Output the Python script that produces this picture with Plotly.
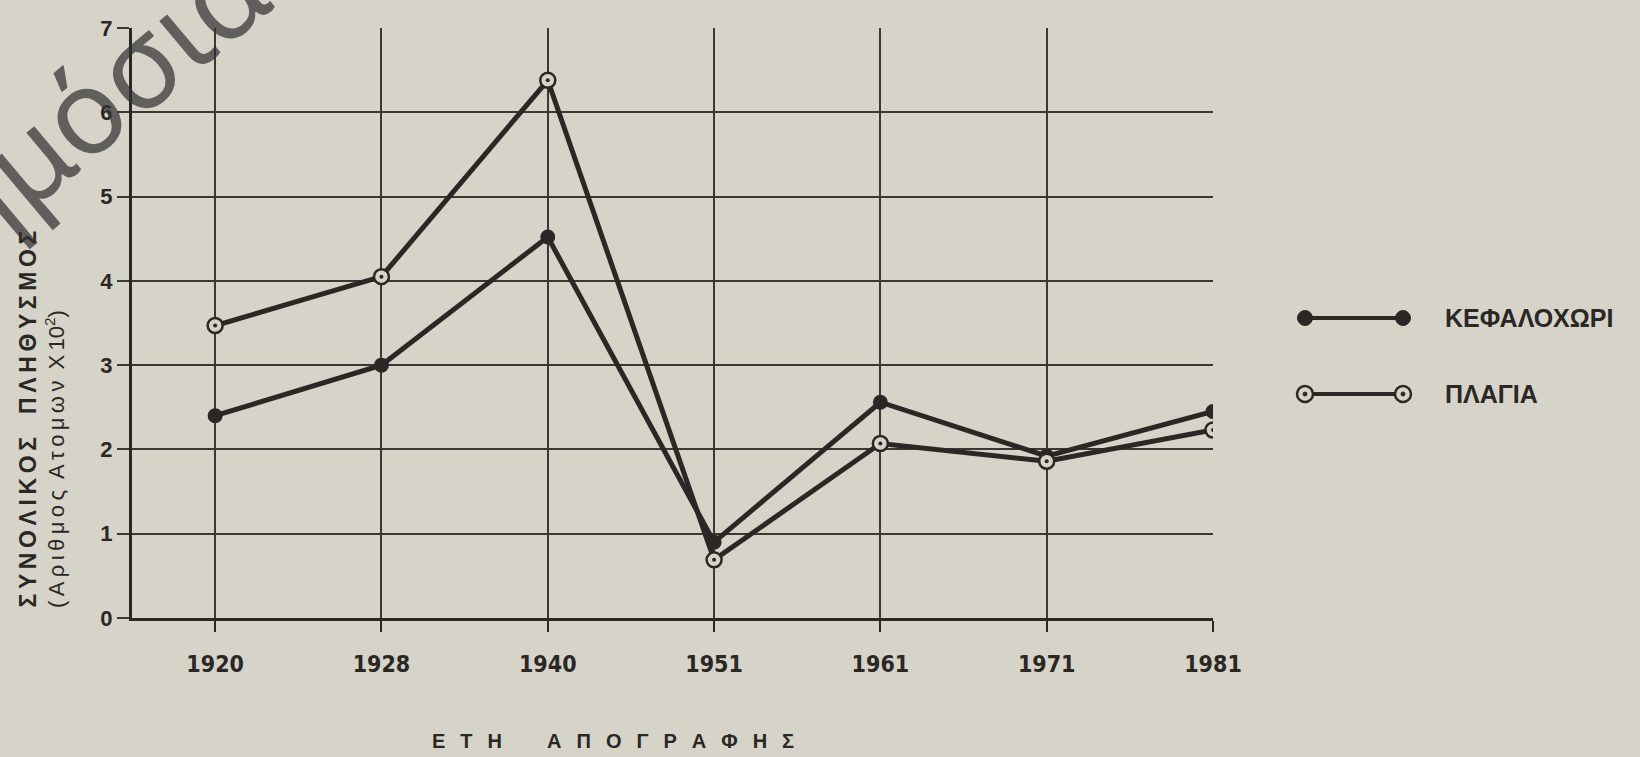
import plotly.graph_objects as go

# ---- data ----
years = ["1920", "1928", "1940", "1951", "1961", "1971", "1981"]
kefalochori = [2.40, 3.00, 4.52, 0.90, 2.56, 1.92, 2.45]
plagia = [3.47, 4.05, 6.38, 0.69, 2.07, 1.86, 2.23]
y_ticks = [0, 1, 2, 3, 4, 5, 6, 7]
series_names = ["ΚΕΦΑΛΟΧΩΡΙ", "ΠΛΑΓΙΑ"]

BG = "#d6d4c9"
INK = "#2a2724"
GRID = "#3b3834"

W, H = 1640, 757
L, R, T, B = 132, 427, 28, 139
PW, PH = W - L - R, H - T - B


def px(x):
    return (x - L) / PW


def py(y):
    return (H - B - y) / PH


def spaced(s, sep="\u2009"):
    return sep.join(list(s))


fig = go.Figure()

# lines
fig.add_trace(go.Scatter(x=years, y=plagia, mode="lines",
                         line=dict(color=INK, width=5), showlegend=False, hoverinfo="skip"))
fig.add_trace(go.Scatter(x=years, y=kefalochori, mode="lines+markers",
                         line=dict(color=INK, width=5),
                         marker=dict(symbol="circle", size=15, color=INK),
                         name=series_names[0], showlegend=False))
# open markers for ΠΛΑΓΙΑ
fig.add_trace(go.Scatter(x=years, y=plagia, mode="markers",
                         marker=dict(symbol="circle", size=15, color=BG,
                                     line=dict(color=INK, width=2.5)),
                         name=series_names[1], showlegend=False))
fig.add_trace(go.Scatter(x=years, y=plagia, mode="markers",
                         marker=dict(symbol="circle", size=4, color=INK),
                         showlegend=False, hoverinfo="skip"))

fig.update_xaxes(
    type="category", categoryorder="array", categoryarray=years,
    range=[-0.5, 6], showgrid=True, gridcolor=GRID, gridwidth=2,
    showline=True, linecolor=INK, linewidth=3,
    ticks="outside", ticklen=11, tickwidth=2, tickcolor=INK,
    ticklabelstandoff=12,
    tickfont=dict(family="Liberation Sans Narrow, DejaVu Sans Condensed, Liberation Sans", size=23,
                  color=INK, weight="bold"),
    zeroline=False, fixedrange=True,
)
fig.update_yaxes(
    range=[0, 7], tickvals=y_ticks, showgrid=True, gridcolor=GRID, gridwidth=2,
    showline=True, linecolor=INK, linewidth=3,
    ticks="outside", ticklen=12, tickwidth=2, tickcolor=GRID,
    tickfont=dict(family="Liberation Sans, Arial", size=22, color=INK, weight="bold"),
    zeroline=False, fixedrange=True,
)

# ---- manual legend ----
shapes = []
annots = []
rows = [(318, "filled"), (394, "open")]
for (yy, kind), name in zip(rows, series_names):
    shapes.append(dict(type="line", xref="paper", yref="paper",
                       x0=px(1305), x1=px(1403), y0=py(yy), y1=py(yy),
                       line=dict(color=INK, width=4)))
    for xc in (1305, 1403):
        if kind == "filled":
            shapes.append(dict(type="circle", xref="paper", yref="paper",
                               xsizemode="pixel", ysizemode="pixel",
                               xanchor=px(xc), yanchor=py(yy),
                               x0=-7.5, x1=7.5, y0=-7.5, y1=7.5,
                               fillcolor=INK, line=dict(color=INK, width=1)))
        else:
            shapes.append(dict(type="circle", xref="paper", yref="paper",
                               xsizemode="pixel", ysizemode="pixel",
                               xanchor=px(xc), yanchor=py(yy),
                               x0=-8, x1=8, y0=-8, y1=8,
                               fillcolor=BG, line=dict(color=INK, width=2.5)))
            shapes.append(dict(type="circle", xref="paper", yref="paper",
                               xsizemode="pixel", ysizemode="pixel",
                               xanchor=px(xc), yanchor=py(yy),
                               x0=-2, x1=2, y0=-2, y1=2,
                               fillcolor=INK, line=dict(color=INK, width=1)))
    annots.append(dict(text=name, xref="paper", yref="paper", x=px(1443), y=py(yy),
                       xanchor="left", yanchor="middle", showarrow=False,
                       font=dict(family="Liberation Sans, Arial", size=25, color=INK, weight="bold")))

# ---- axis titles ----
annots.append(dict(text=spaced("ΣΥΝΟΛΙΚΟΣ") + "\u2003" + spaced("ΠΛΗΘΥΣΜΟΣ"),
                   xref="paper", yref="paper", x=px(27), y=py(610),
                   xanchor="center", yanchor="bottom", textangle=-90, showarrow=False,
                   font=dict(family="Liberation Sans, Arial", size=23, color=INK, weight="bold")))
annots.append(dict(text="(\u2009" + spaced("Αριθμος") + "\u2002" + spaced("Ατομων") + "\u2002Χ\u200910<sup>2</sup>)",
                   xref="paper", yref="paper", x=px(55), y=py(610),
                   xanchor="center", yanchor="bottom", textangle=-90, showarrow=False,
                   font=dict(family="Liberation Sans, Arial", size=22, color=INK)))
GAP = "\u2002\u2005"
annots.append(dict(text=GAP.join(list("ΕΤΗ")) + "\u2003\u2003\u2005" + GAP.join(list("ΑΠΟΓΡΑΦΗΣ")),
                   xref="paper", yref="paper", x=px(430), y=py(741),
                   xanchor="left", yanchor="middle", showarrow=False,
                   font=dict(family="Liberation Sans, Arial", size=20, color=INK, weight="bold")))

# ---- watermark ----
annots.append(dict(text="Δημόσια", xref="paper", yref="paper", x=px(66), y=py(122),
                   xanchor="center", yanchor="middle", textangle=-40, showarrow=False,
                   font=dict(family="Noto Sans, DejaVu Sans", size=118, color="rgba(50,50,50,0.72)")))

fig.update_layout(
    width=W, height=H,
    margin=dict(l=L, r=R, t=T, b=B, pad=0),
    paper_bgcolor=BG, plot_bgcolor=BG,
    showlegend=False,
    shapes=shapes, annotations=annots,
)

fig.write_html("out.html", config={"displayModeBar": False},
               post_script="document.body.style.margin='0px';")
